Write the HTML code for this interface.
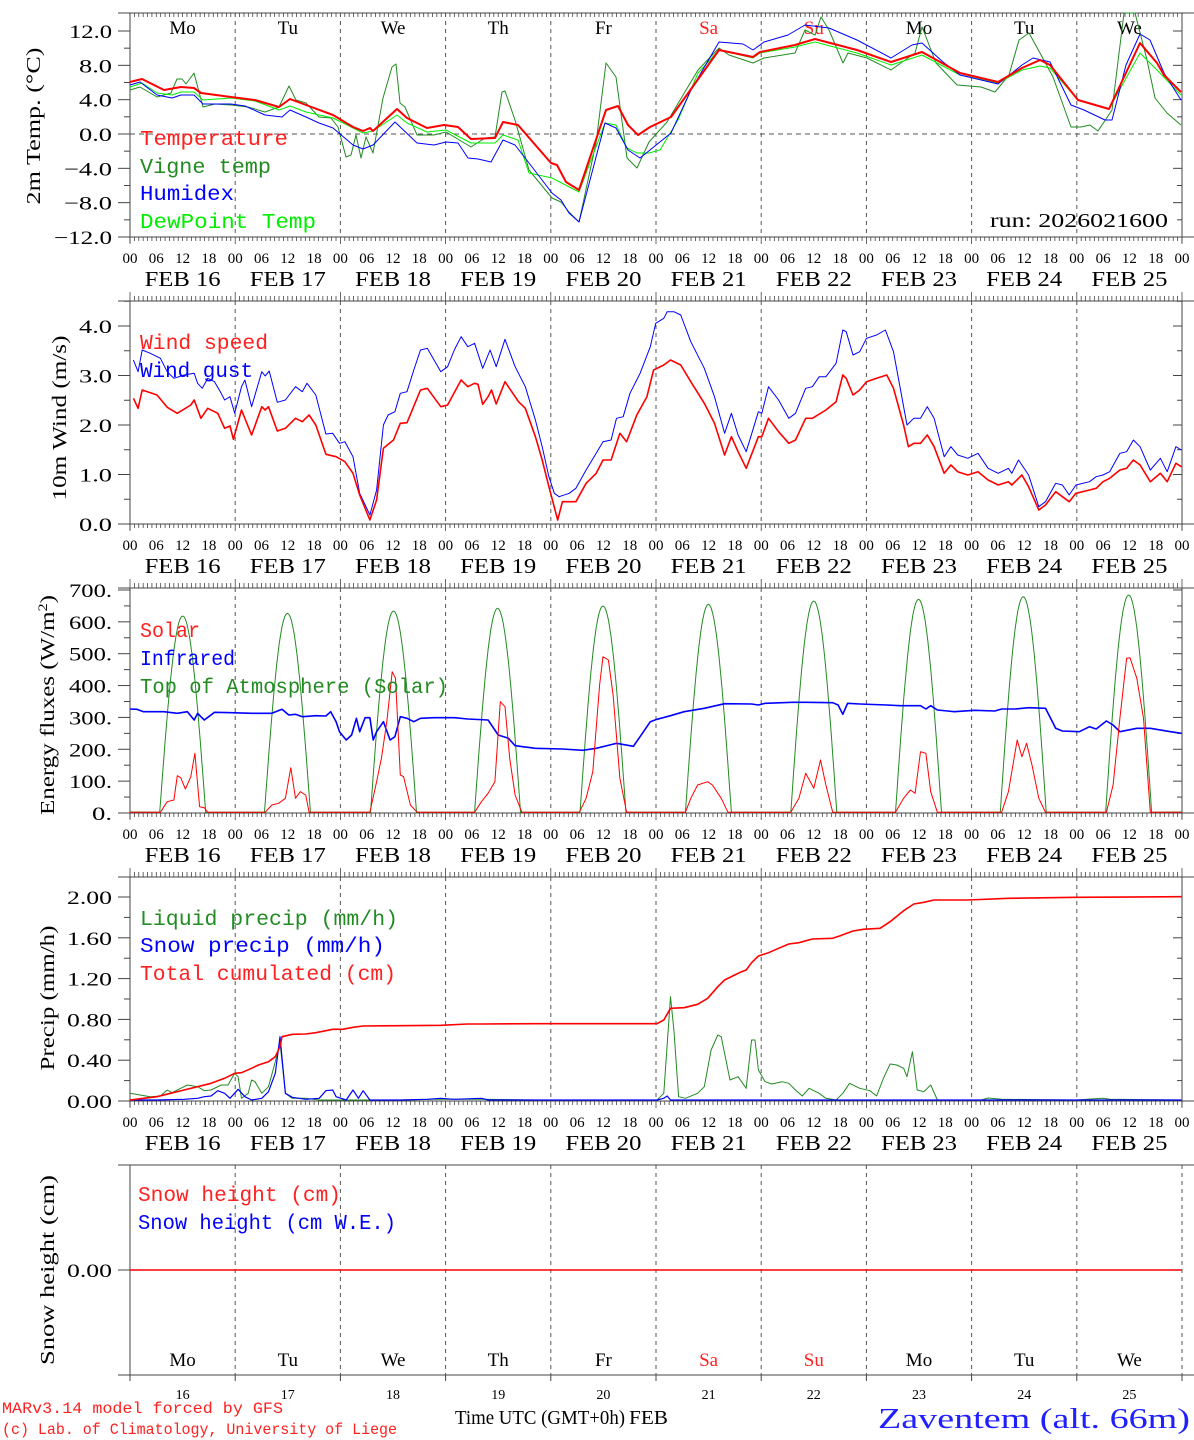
<!DOCTYPE html>
<html><head><meta charset="utf-8">
<style>
html,body{margin:0;padding:0;background:#fff;}
svg{display:block;}
text{font-family:"Liberation Serif",serif;}
.m{font-family:"Liberation Mono",monospace;}
</style></head>
<body>
<svg id="s" width="1194" height="1440" viewBox="0 0 1194 1440" xmlns="http://www.w3.org/2000/svg"></svg>
<script>
(function(){
var S=[];
var X0=130,DW=105.2,X1=1182,AX="#444";
function L(x1,y1,x2,y2,c,w,d){S.push('<line x1="'+x1+'" y1="'+y1+'" x2="'+x2+'" y2="'+y2+'" stroke="'+(c||AX)+'" stroke-width="'+(w||1)+'"'+(d?' stroke-dasharray="'+d+'"':'')+'/>');}
function T(x,y,s,o){o=o||{};S.push('<text x="'+x+'" y="'+y+'" font-size="'+(o.fs||19)+'" fill="'+(o.c||'#000')+'"'+(o.a?' text-anchor="'+o.a+'"':'')+(o.cl?' class="'+o.cl+'"':'')+(o.tl?' textLength="'+o.tl+'" lengthAdjust="spacingAndGlyphs"':'')+(o.tr?' transform="'+o.tr+'"':'')+'>'+s+'</text>');}
function P(pts,c,w){S.push('<polyline fill="none" stroke="'+c+'" stroke-width="'+(w||1)+'" stroke-linejoin="round" points="'+pts.map(function(p){return p[0].toFixed(1)+','+p[1].toFixed(1);}).join(' ')+'"/>');}
function Z(arr,x0,sx,y0,sy){var o=[];for(var i=0;i<arr.length;i+=2){o.push([Math.min(X1,x0+arr[i]/sx),y0+arr[i+1]/sy]);}return o;}
var panels=[{t:13,b:237,dn:true},{t:301,b:524},{t:588,b:813},{t:877,b:1101}];
var days=["Mo","Tu","We","Th","Fr","Sa","Su","Mo","Tu","We"];
panels.forEach(function(p,i){
  L(118,p.t,1194,p.t);L(118,p.b,1194,p.b);L(X0,p.t,X0,p.b+6);L(X1,p.t,X1,p.b+6);
  for(var h=0;h<=240;h++){var x=X0+h*DW/24;var day=h%24==0;
    L(x,p.b,x,p.b+(day?7:4),AX,0.8);
    if(p.dn)L(x,p.t,x,p.t+4,AX,0.8);else L(x,p.t-(day?9:5),x,p.t,AX,0.8);}
  for(var d=1;d<10;d++){var x=X0+d*DW;L(x,p.t,x,p.b,"#555",1,"4,4");}
  var hy=p.b+26;
  for(var d=0;d<10;d++){[0,6,12,18].forEach(function(h){T(X0+d*DW+h*DW/24,hy,(h<10?'0':'')+h,{fs:15,a:'middle'});});
    T(X0+d*DW+DW/2,p.b+49,'FEB '+(16+d),{fs:21,a:'middle',tl:76});}
  T(X1,hy,'00',{fs:15,a:'middle'});
});
// panel1 day names
days.forEach(function(n,d){T(X0+d*DW+DW/2,34,n,{fs:19,a:'middle',c:(d==5||d==6)?'#ff2020':'#000'});});
// y ticks
function yt(y2v,vals,minors,fmt,tl){
  minors.forEach(function(v){var y=y2v(v);L(124,y,X0,y);L(X1,y,X1-5,y);});
  vals.forEach(function(v){var y=y2v(v);L(118,y,X0,y);L(X1,y,X1-9,y);T(112,y+7,fmt(v),{fs:19,a:'end',tl:tl(v)});});
}
var r=[];
yt(function(v){return 134-v*8.583;},[12,8,4,0,-4,-8,-12],[10,6,2,-2,-6,-10],function(v){return (v<0?'−':'')+Math.abs(v).toFixed(1);},function(v){return v<=-10?58:(v<0||v>=10?(v<0?48:43):33);});
yt(function(v){return 524-v*49.5;},[0,1,2,3,4],[0.5,1.5,2.5,3.5,4.5],function(v){return v.toFixed(1);},function(){return 33;});
yt(function(v){return 813-v*0.3186;},[0,100,200,300,400,500,600,700],[50,150,250,350,450,550,650],function(v){return v+'.';},function(v){return v==0?20:43;});
yt(function(v){return 1101-v*102;},[0,0.4,0.8,1.2,1.6,2.0],[0.2,0.6,1.0,1.4,1.8],function(v){return v.toFixed(2);},function(){return 45;});
// zero dashed
L(X0,134,X1,134,"#555",1,"5,4");
// axis titles
T(40,126,'2m Temp. (°C)',{fs:20,a:'middle',tl:157,tr:'rotate(-90 40 126)'});
T(66,418,'10m Wind (m/s)',{fs:20,a:'middle',tl:165,tr:'rotate(-90 66 418)'});
T(54,705,'Energy fluxes (W/m<tspan font-size="13" dy="-7">2</tspan><tspan dy="7">)</tspan>',{fs:20,a:'middle',tl:220,tr:'rotate(-90 54 705)'});
T(54,998,'Precip (mm/h)',{fs:20,a:'middle',tl:145,tr:'rotate(-90 54 998)'});
T(54,1270,'Snow height (cm)',{fs:20,a:'middle',tl:190,tr:'rotate(-90 54 1270)'});
// panel 1 data
var red1=[[130,82],[142,79],[164,90],[181,87],[194,88],[201,93],[231,97],[255,100],[279,107],[290,99],[306,105],[333,115],[353,127],[363,131],[370,128],[373,131],[397,109],[407,118],[427,128],[444,125],[458,127],[471,139],[495,138],[503,122],[518,125],[551,163],[557,165],[566,182],[579,190],[606,110],[618,106],[628,125],[638,135],[650,127],[671,117],[719,50],[753,57],[760,52],[795,45],[815,39],[857,50],[891,62],[922,52],[960,73],[998,82],[1022,68],[1040,60],[1050,65],[1078,100],[1109,109],[1140,43],[1157,63],[1164,75],[1181,92]];
var blu1=[[130,85],[140,82],[157,95],[172,98],[181,95],[194,95],[203,104],[231,104],[245,106],[265,115],[282,117],[290,110],[306,117],[319,123],[333,128],[353,145],[363,149],[373,145],[395,122],[417,143],[434,145],[446,142],[458,143],[468,158],[478,159],[491,162],[503,140],[515,145],[529,163],[552,193],[561,200],[569,213],[579,222],[605,123],[616,128],[628,150],[640,158],[650,150],[671,133],[691,90],[719,42],[743,44],[753,50],[764,42],[788,35],[805,25],[829,28],[857,40],[891,58],[912,45],[922,43],[943,62],[960,75],[998,84],[1022,65],[1033,58],[1050,62],[1071,105],[1084,110],[1105,120],[1112,120],[1126,65],[1140,34],[1150,40],[1164,73],[1181,100]];
var dg1=[[130,90],[140,87],[157,97],[171,93],[177,79],[182,79],[186,84],[194,73],[203,107],[215,104],[231,105],[248,107],[265,112],[279,107],[289,86],[296,100],[306,103],[319,117],[331,118],[338,127],[346,157],[351,155],[356,135],[361,158],[366,137],[373,153],[383,98],[392,67],[396,64],[400,103],[405,107],[417,135],[434,135],[446,132],[471,147],[485,138],[495,137],[502,92],[505,91],[515,120],[529,170],[552,198],[561,202],[569,212],[579,222],[596,143],[606,63],[616,77],[627,158],[637,168],[649,142],[667,122],[698,70],[719,48],[729,55],[753,63],[764,58],[795,53],[805,30],[815,35],[821,17],[829,30],[843,63],[848,53],[867,58],[891,70],[915,53],[922,27],[926,37],[936,63],[957,85],[981,87],[995,92],[1009,75],[1019,40],[1029,33],[1040,53],[1053,77],[1071,127],[1081,127],[1090,125],[1098,131],[1112,110],[1124,13],[1135,13],[1147,60],[1155,98],[1167,113],[1181,125]];
var lg1=[[130,87],[142,83],[157,93],[172,95],[181,92],[194,92],[203,100],[231,98],[255,101],[279,110],[290,106],[306,112],[333,118],[353,128],[363,133],[373,131],[397,115],[407,123],[427,132],[446,130],[471,143],[495,143],[503,135],[518,140],[529,173],[552,178],[579,192],[605,123],[616,125],[627,148],[637,153],[649,153],[660,150],[678,120],[698,73],[719,50],[753,58],[760,53],[795,47],[815,42],[857,53],[891,65],[922,55],[960,75],[998,83],[1022,70],[1040,66],[1050,68],[1078,100],[1109,109],[1140,53],[1157,70],[1181,95]];
P(dg1,'#228b22',1);P(lg1,'#00ee00',1);P(blu1,'#0000ff',1);P(red1,'#ff0000',2);
T(140,145,'Temperature',{cl:'m',fs:21,c:'#ff2020',tl:148});
T(140,173,'Vigne temp',{cl:'m',fs:21,c:'#228b22',tl:131});
T(140,200,'Humidex',{cl:'m',fs:21,c:'#0000ff',tl:94});
T(140,228,'DewPoint Temp',{cl:'m',fs:21,c:'#00ee00',tl:176});
T(1168,227,'run: 2026021600',{fs:20,a:'end',tl:178});
// panel 2
var wr=[5,295,12,325,18,270,40,285,55,322,70,340,90,315,95,300,105,355,115,325,130,340,140,385,148,378,153,418,165,330,180,405,195,320,200,330,205,320,218,393,230,385,245,355,255,365,265,345,275,375,290,463,305,470,318,485,330,520,340,585,355,660,365,600,375,445,390,420,400,370,410,368,430,270,440,265,460,320,470,315,490,240,500,260,510,250,515,253,522,313,530,290,535,270,542,312,555,245,575,305,585,325,600,410,610,480,620,560,633,660,640,605,660,605,675,550,690,520,700,480,712,480,725,400,735,425,750,345,765,290,775,210,790,195,800,180,815,195,830,245,850,310,865,370,880,465,890,410,900,455,912,505,930,410,935,410,945,355,960,395,975,430,985,420,1000,355,1010,355,1030,330,1045,305,1055,225,1060,235,1070,285,1080,270,1090,245,1105,235,1120,225,1130,265,1145,375,1152,440,1160,430,1170,430,1180,405,1190,440,1205,520,1215,495,1225,515,1240,525,1255,515,1270,540,1285,555,1300,545,1305,555,1320,525,1330,560,1345,630,1355,615,1370,575,1380,590,1390,605,1400,580,1420,570,1430,565,1440,545,1450,535,1465,510,1475,505,1485,480,1495,495,1510,545,1525,520,1535,545,1548,490,1556,500];
var wb=[5,180,12,215,18,150,30,160,45,175,55,215,65,235,80,225,95,220,100,250,107,265,115,235,125,245,135,280,140,300,148,290,155,340,165,260,170,240,180,320,195,215,200,228,206,213,218,307,230,300,245,260,255,275,262,250,275,285,290,402,300,400,310,430,318,425,330,470,340,580,355,645,365,570,375,375,382,345,392,335,400,280,410,275,420,210,430,150,440,145,460,215,470,200,480,150,490,110,500,140,510,130,522,205,533,150,542,200,555,118,570,200,585,260,600,360,610,440,620,530,628,580,635,590,650,580,660,565,675,510,690,460,700,425,712,420,720,355,730,350,740,280,755,220,770,140,778,70,790,55,795,35,805,35,815,45,830,125,850,205,865,290,880,400,890,340,900,405,912,455,930,335,935,340,945,260,960,300,975,355,985,340,1000,265,1010,260,1020,230,1030,230,1045,190,1055,90,1060,95,1070,165,1080,155,1090,115,1105,105,1118,90,1130,155,1150,375,1160,355,1170,355,1180,320,1190,355,1205,470,1215,440,1225,465,1240,475,1255,460,1270,505,1285,520,1300,505,1305,520,1315,480,1330,525,1345,620,1355,605,1370,550,1380,555,1390,585,1400,555,1420,545,1430,530,1440,525,1450,515,1465,460,1475,455,1485,420,1495,440,1510,510,1525,475,1535,515,1548,440,1556,450];
P(Z(wb,130,1.48,300,3),'#0000ff',1);P(Z(wr,130,1.48,300,3),'#ff0000',1.6);
T(140,349,'Wind speed',{cl:'m',fs:21,c:'#ff2020',tl:128});
T(140,377,'Wind gust',{cl:'m',fs:21,c:'#0000ff',tl:113});
// panel 3
var toa=[],pk=[78,233,390,544,700,856,1012,1167,1322,1478],ph=[93,85,78,70,63,58,48,43,35,30];
toa.push([130,812]);
pk.forEach(function(c,i){var h=682-ph[i];for(var k=-34;k<=34;k+=2){toa.push([130+(c+k)/1.48,585+(682-h*Math.cos(Math.PI/2*k/34))/3]);}});
toa.push([1182,812]);
P(toa,'#228b22',1);
var ir=[0,372,10,373,20,380,50,380,70,385,85,380,95,405,100,385,105,395,110,405,125,382,150,383,180,385,210,385,225,373,235,390,245,388,255,395,275,392,290,393,297,380,305,410,310,440,320,465,328,450,335,400,340,440,348,398,355,398,360,465,365,440,375,410,385,465,392,455,400,395,410,400,420,410,430,400,450,398,480,398,500,402,530,405,545,450,560,460,570,482,600,490,640,492,670,496,690,490,710,480,720,475,745,484,760,440,770,410,780,403,800,392,820,380,850,370,880,356,920,357,930,360,940,355,980,352,1000,352,1040,353,1048,360,1055,388,1062,355,1080,357,1120,360,1140,362,1170,362,1178,372,1185,362,1195,375,1210,378,1220,380,1250,376,1280,378,1290,372,1310,372,1330,368,1355,370,1370,430,1380,438,1405,440,1420,425,1430,432,1445,408,1455,420,1465,440,1490,430,1510,430,1540,440,1556,445];
P(Z(ir,130,1.48,585,3),'#0000ff',1.6);
var sol=[0,682,45,682,55,650,65,645,70,572,75,578,82,612,90,575,96,505,103,665,110,668,115,682,200,682,210,660,220,655,230,640,238,548,245,640,252,620,260,630,265,682,355,682,365,590,372,520,380,410,388,260,393,280,400,570,405,575,415,660,425,682,510,682,520,650,530,625,540,590,548,350,555,365,562,520,570,630,580,682,665,682,675,640,685,560,695,300,700,215,708,225,715,330,725,580,735,682,822,682,830,640,840,600,855,590,862,600,875,640,885,682,978,682,990,640,1000,565,1012,610,1022,525,1030,600,1040,682,1133,682,1145,640,1155,615,1162,625,1170,500,1178,505,1185,620,1195,682,1290,682,1300,620,1313,465,1320,515,1327,475,1335,540,1345,640,1355,682,1445,682,1455,600,1465,400,1475,220,1480,218,1490,280,1500,400,1510,682,1560,682];
P(Z(sol,130,1.48,585,3),'#ff0000',1);
T(140,637,'Solar',{cl:'m',fs:21,c:'#ff2020',tl:60});
T(140,665,'Infrared',{cl:'m',fs:21,c:'#0000ff',tl:95});
T(140,693,'Top of Atmosphere (Solar)',{cl:'m',fs:21,c:'#228b22',tl:308});
// panel 4
var cum=[0,660,20,655,40,650,60,640,80,630,100,620,120,610,140,595,155,580,165,578,180,565,190,555,205,545,215,530,222,500,225,470,240,463,260,462,275,458,290,452,300,448,315,448,330,442,345,438,400,437,460,436,500,432,520,432,600,431,780,431,790,420,800,385,820,383,840,373,855,355,870,320,880,300,895,285,905,275,912,270,920,248,930,228,945,218,960,205,975,192,990,188,1010,177,1040,175,1050,168,1070,153,1085,148,1110,145,1125,125,1145,92,1160,72,1175,67,1190,60,1240,60,1300,55,1400,52,1556,50];
var liq=[0,640,15,645,30,650,45,648,55,630,62,638,75,625,85,615,100,620,110,632,120,630,135,615,145,615,155,580,160,590,165,655,175,640,180,600,185,605,195,640,205,620,215,545,222,488,230,640,240,655,260,655,280,660,300,660,320,660,400,660,450,658,520,658,600,660,780,660,790,640,800,350,805,450,812,650,822,655,840,640,850,620,860,510,870,465,875,470,888,600,900,590,912,625,920,480,925,480,930,570,940,605,950,612,965,605,975,610,985,630,995,648,1005,625,1020,640,1030,655,1045,660,1055,640,1065,610,1080,625,1095,632,1105,648,1115,595,1125,552,1135,555,1145,565,1150,590,1158,515,1165,630,1175,635,1185,615,1195,660,1260,660,1270,654,1290,658,1400,660,1440,655,1450,658,1556,660];
var snw=[0,660,40,660,80,658,100,655,110,650,120,648,130,632,140,640,148,655,160,628,170,650,180,660,195,655,205,635,215,580,222,470,230,640,240,652,260,658,280,655,290,632,300,630,305,650,320,660,330,630,338,655,345,632,355,660,400,660,440,658,460,655,480,658,520,655,530,660,780,660,790,655,795,648,800,660,1556,660];
P(Z(liq,130,1.48,880,3),'#228b22',1);P(Z(snw,130,1.48,880,3),'#0000ff',1.2);P(Z(cum,130,1.48,880,3),'#ff0000',1.6);
T(140,925,'Liquid precip (mm/h)',{cl:'m',fs:21,c:'#228b22',tl:258});
T(140,952,'Snow precip (mm/h)',{cl:'m',fs:21,c:'#0000ff',tl:245});
T(140,980,'Total cumulated (cm)',{cl:'m',fs:21,c:'#ff2020',tl:256});
// panel 5
L(118,1165,1194,1165);L(118,1375,1194,1375);L(X0,1165,X0,1381);
for(var d=1;d<=10;d++){var x=X0+d*DW;L(x,1165,x,1375,"#555",1,"4,4");L(x,1375,x,1381);}
L(118,1270,X0,1270);T(112,1277,'0.00',{fs:19,a:'end',tl:45});
L(X0,1270,X1,1270,'#ff0000',1.5);
T(138,1201,'Snow height (cm)',{cl:'m',fs:21,c:'#ff2020',tl:203});
T(138,1229,'Snow height (cm W.E.)',{cl:'m',fs:21,c:'#0000ff',tl:258});
days.forEach(function(n,d){var x=X0+d*DW+DW/2;T(x,1366,n,{fs:19,a:'middle',c:(d==5||d==6)?'#ff2020':'#000'});T(x,1399,String(16+d),{fs:14,a:'middle'});});
T(2,1413,'MARv3.14 model forced by GFS',{cl:'m',fs:16,c:'#ff2020',tl:281});
T(2,1434,'(c) Lab. of Climatology, University of Liege',{cl:'m',fs:16,c:'#ff2020',tl:395});
T(455,1424,'Time UTC (GMT+0h)',{fs:20,tl:170});
T(629,1424,'FEB',{fs:20,tl:39});
T(878,1428,'Zaventem (alt. 66m)',{fs:29,c:'#2020ff',tl:312});
document.getElementById('s').innerHTML=S.join('');
})();
</script>
</body></html>
